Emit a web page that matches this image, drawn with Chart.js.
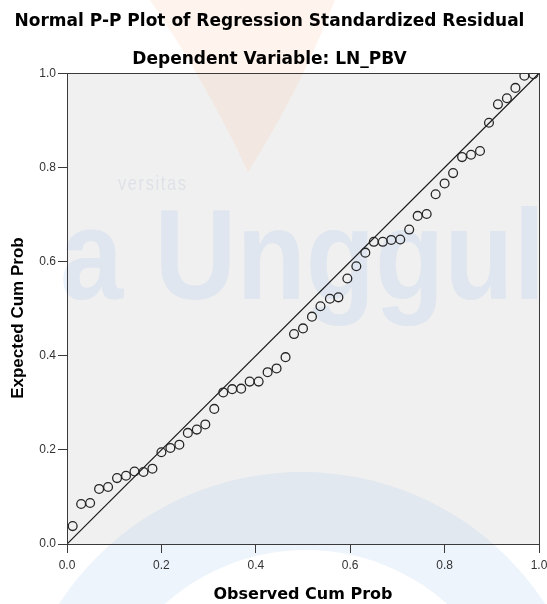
<!DOCTYPE html>
<html><head><meta charset="utf-8">
<script src="https://cdn.jsdelivr.net/npm/chart.js@4.4.1/dist/chart.umd.min.js"></script>
<style>html,body{margin:0;padding:0;background:#fff;}canvas{display:block;}</style>
</head><body>
<canvas id="c" width="547" height="604"></canvas>
<script>
const titleText = "Normal P-P Plot of Regression Standardized Residual";
const subtitleText = "Dependent Variable: LN_PBV";
const xAxisTitle = "Observed Cum Prob";
const yAxisTitle = "Expected Cum Prob";
const tickValues = [0, 0.2, 0.4, 0.6, 0.8, 1.0];

const observedCumProb = [
  0.012, 0.030, 0.049, 0.068, 0.087, 0.106, 0.125, 0.143, 0.162, 0.181,
  0.200, 0.219, 0.238, 0.256, 0.275, 0.293, 0.312, 0.331, 0.350, 0.369,
  0.387, 0.406, 0.425, 0.444, 0.463, 0.481, 0.500, 0.519, 0.537, 0.557,
  0.575, 0.594, 0.613, 0.632, 0.650, 0.669, 0.687, 0.706, 0.725, 0.743,
  0.762, 0.781, 0.800, 0.818, 0.837, 0.856, 0.875, 0.894, 0.913, 0.932,
  0.950, 0.969, 0.988
];
const expectedCumProb = [
  0.038, 0.085, 0.087, 0.117, 0.121, 0.140, 0.145, 0.154, 0.153, 0.160,
  0.195, 0.204, 0.211, 0.236, 0.243, 0.254, 0.287, 0.322, 0.329, 0.330,
  0.345, 0.345, 0.365, 0.373, 0.397, 0.446, 0.458, 0.483, 0.505, 0.521,
  0.524, 0.564, 0.590, 0.619, 0.642, 0.642, 0.646, 0.647, 0.668, 0.697,
  0.701, 0.743, 0.766, 0.788, 0.822, 0.827, 0.835, 0.895, 0.934, 0.947,
  0.969, 0.995, 0.998
];
const refLineX = [0, 1];
const refLineY = [0, 1];

const points = observedCumProb.map((x, i) => ({x: x, y: expectedCumProb[i]}));
const refLine = refLineX.map((x, i) => ({x: x, y: refLineY[i]}));

const PLOT_BG = '#f0f0f0';
const FRAME = '#3a3a3a';

const backgroundPlugin = {
  id: 'bgframe',
  beforeDraw(chart) {
    const {ctx, chartArea: a} = chart;
    ctx.save();
    ctx.fillStyle = '#ffffff';
    ctx.fillRect(0, 0, chart.width, chart.height);
    ctx.fillStyle = PLOT_BG;
    ctx.fillRect(a.left, a.top, a.right - a.left, a.bottom - a.top);
    // faint watermark: orange wedge at top
    ctx.fillStyle = 'rgba(250,200,175,0.22)';
    ctx.beginPath();
    ctx.moveTo(150, 0); ctx.lineTo(335, 0);
    ctx.quadraticCurveTo(300, 90, 248, 172);
    ctx.quadraticCurveTo(205, 80, 150, 0);
    ctx.closePath(); ctx.fill();
    // bottom arch band
    ctx.fillStyle = 'rgba(170,200,235,0.2)';
    ctx.beginPath();
    ctx.arc(302, 762, 290, Math.PI, 2 * Math.PI);
    ctx.arc(306, 762, 212, 2 * Math.PI, Math.PI, true);
    ctx.closePath(); ctx.fill();
    // watermark text
    ctx.fillStyle = 'rgba(160,195,235,0.21)';
    ctx.font = 'bold 128px "Liberation Sans", Arial, sans-serif';
    ctx.textBaseline = 'alphabetic';
    const w = ctx.measureText('a Unggul').width;
    ctx.translate(60, 299);
    ctx.scale(485 / w, 1);
    ctx.fillText('a Unggul', 0, 0);
    ctx.restore();
    ctx.save();
    ctx.fillStyle = 'rgba(150,170,200,0.2)';
    ctx.font = '21px "Liberation Sans", Arial, sans-serif';
    ctx.textBaseline = 'alphabetic';
    const vw = ctx.measureText('versitas').width;
    ctx.translate(118, 190);
    ctx.scale(68 / (vw + 14), 1);
    let x = 0;
    for (const ch of 'versitas') { ctx.fillText(ch, x, 0); x += ctx.measureText(ch).width + 2; }
    ctx.restore();
  },
  afterDatasetsDraw(chart) {
    const {ctx, chartArea: a} = chart;
    ctx.save();
    ctx.strokeStyle = FRAME;
    ctx.lineWidth = 1;
    ctx.strokeRect(Math.round(a.left) + 0.5, Math.round(a.top) + 0.5,
      Math.round(a.right - a.left), Math.round(a.bottom - a.top));
    ctx.restore();
  }
};

const tickFont = {family: '"Liberation Sans", Arial, sans-serif', size: 12};
const fmt = v => Number(v).toFixed(1);

new Chart(document.getElementById('c'), {
  type: 'scatter',
  data: {
    datasets: [
      {
        label: 'Observed',
        data: points,
        pointStyle: 'circle',
        pointRadius: 4.4,
        pointHoverRadius: 4.4,
        borderWidth: 1.3,
        borderColor: '#262626',
        backgroundColor: 'rgba(0,0,0,0)',
        showLine: false,
        order: 1
      },
      {
        label: 'Reference',
        data: refLine,
        showLine: true,
        pointRadius: 0,
        borderColor: '#1a1a1a',
        borderWidth: 1.2,
        order: 2
      }
    ]
  },
  options: {
    responsive: false,
    animation: false,
    events: [],
    layout: {padding: {top: 0, left: 0, right: 8, bottom: 0}},
    plugins: {
      legend: {display: false},
      tooltip: {enabled: false},
      title: {
        display: true, text: titleText, color: '#000',
        font: {family: '"DejaVu Sans", sans-serif', size: 17, weight: 'bold'},
        padding: {top: 11, bottom: 0}
      },
      subtitle: {
        display: true, text: subtitleText, color: '#000',
        font: {family: '"DejaVu Sans", sans-serif', size: 17, weight: 'bold'},
        padding: {top: 18.4, bottom: 3.1}
      }
    },
    scales: {
      x: {
        type: 'linear', min: 0, max: 1,
        afterBuildTicks: s => { s.ticks = tickValues.map(v => ({value: v})); },
        afterFit: s => { s.height = 60; s.paddingLeft = 0; s.paddingRight = 0; },
        ticks: {callback: fmt, font: tickFont, color: '#333', padding: 5, maxRotation: 0},
        grid: {display: true, drawOnChartArea: false, drawTicks: true, tickLength: 9, color: FRAME},
        border: {display: false},
        title: {
          display: true, text: xAxisTitle, color: '#000',
          font: {family: '"DejaVu Sans", sans-serif', size: 16, weight: 'bold'},
          padding: {top: 0, bottom: 0}
        }
      },
      y: {
        type: 'linear', min: 0, max: 1,
        afterBuildTicks: s => { s.ticks = tickValues.map(v => ({value: v})); },
        afterFit: s => { s.width = 67; },
        ticks: {callback: fmt, font: tickFont, color: '#333', padding: 2},
        grid: {display: true, drawOnChartArea: false, drawTicks: true, tickLength: 9, color: FRAME},
        border: {display: false},
        title: {
          display: true, text: yAxisTitle + '\u00a0\u00a0\u00a0\u00a0', color: '#000',
          font: {family: '"Liberation Sans", Arial, sans-serif', size: 17, weight: 'bold'},
          padding: {top: 8, bottom: 0}
        }
      }
    }
  },
  plugins: [backgroundPlugin]
});
</script>
</body></html>
